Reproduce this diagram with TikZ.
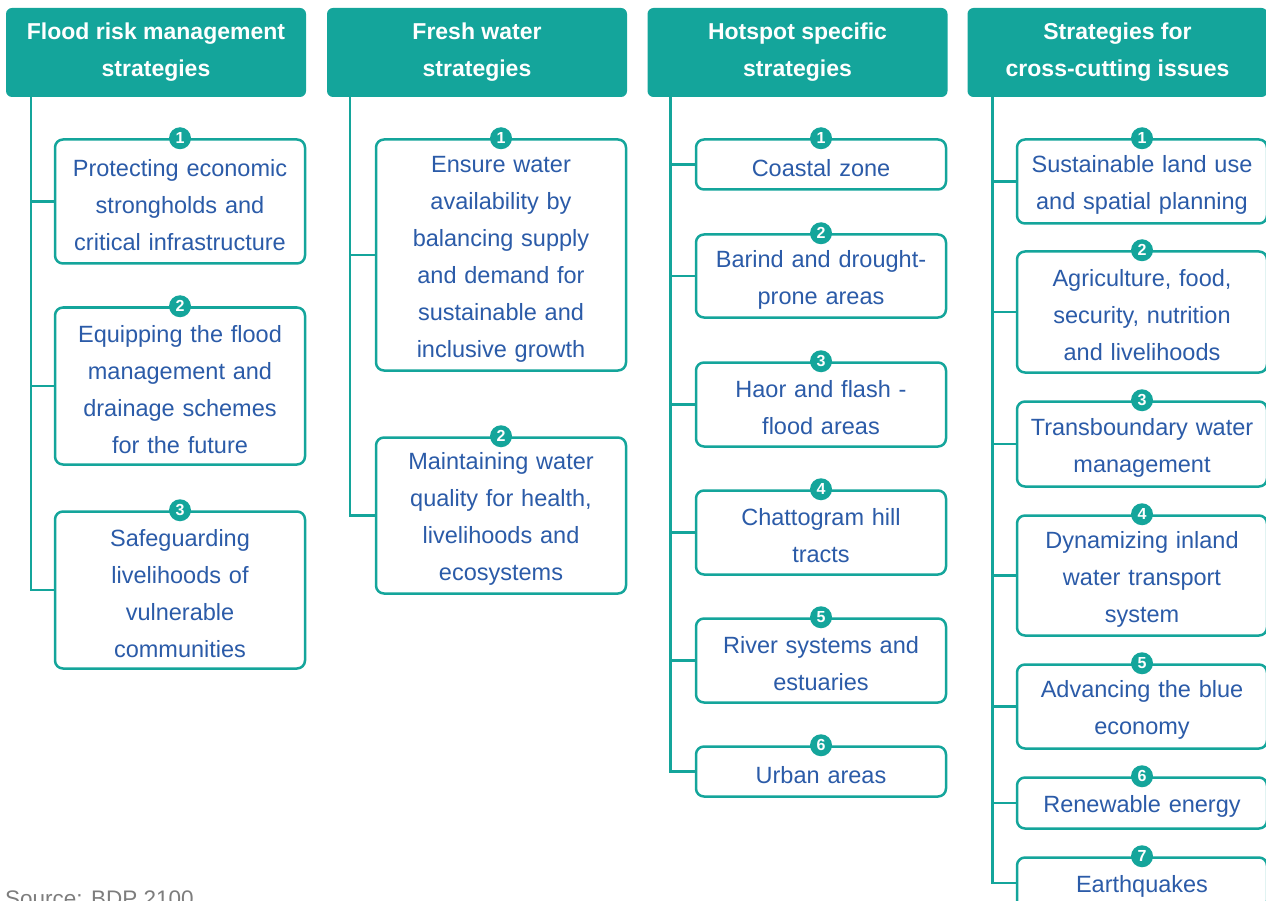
\documentclass[tikz,border=0pt]{standalone}
\usepackage{fontspec}
\setmainfont{Liberation Sans}
\usepackage{tikz}
\usetikzlibrary{positioning}

\definecolor{bdpteal}{RGB}{20,165,155}
\definecolor{bdpblue}{RGB}{43,91,168}
\definecolor{srcgray}{RGB}{125,125,125}

\begin{document}
\begin{tikzpicture}[x=1pt,y=-1pt,
    header/.style={fill=bdpteal,text=white,rounded corners=6pt,
      minimum width=300pt,minimum height=89pt,align=center,
      font=\bfseries\fontsize{23}{37}\selectfont},
    item/.style={draw=bdpteal,line width=2.5pt,fill=white,rounded corners=8pt,
      minimum width=250pt,text width=240pt,align=center,text=bdpblue,
      font=\fontsize{23.5}{37}\selectfont,
      execute at begin node={\rule{0pt}{24pt}}},
    badge/.style={circle,fill=bdpteal,text=white,inner sep=0pt,minimum size=22pt,
      font=\bfseries\fontsize{16}{16}\selectfont},
    link/.style={draw=bdpteal,line width=2.5pt}]
  \useasboundingbox (0,0) rectangle (1266,901);

  % ---- column 1: flood risk ----
  \node[header] (h1) at (156,52.5) {Flood risk management\\strategies};
  \coordinate (s1) at ([xshift=25pt]h1.south west);
  \foreach \n/\y/\h/\txt in {
      1/201.5/124/{Protecting economic\\strongholds and\\critical infrastructure},
      2/386/157/{Equipping the flood\\management and\\drainage schemes\\for the future},
      3/590/157/{Safeguarding\\livelihoods of\\vulnerable\\communities}} {
    \node[item,minimum height=\h pt] (a\n) at (180,\y) {\txt};
    \node[badge] (a\n-num) at (a\n.north) {\n};
    \draw[link] (a\n.west -| s1) -- (a\n.west);
  }
  \draw[link] (s1) |- (a3.west);

  % ---- column 2: fresh water ----
  \node[header] (h2) at (477,52.5) {Fresh water\\strategies};
  \coordinate (s2) at ([xshift=23pt]h2.south west);
  \foreach \n/\y/\h/\txt in {
      1/255/231/{Ensure water\\availability by\\balancing supply\\and demand for\\sustainable and\\inclusive growth},
      2/515.5/156/{Maintaining water\\quality for health,\\livelihoods and\\ecosystems}} {
    \node[item,minimum height=\h pt] (b\n) at (501,\y) {\txt};
    \node[badge] (b\n-num) at (b\n.north) {\n};
    \draw[link] (b\n.west -| s2) -- (b\n.west);
  }
  \draw[link] (s2) |- (b2.west);

  % ---- column 3: hotspots ----
  \node[header] (h3) at (797.5,52.5) {Hotspot specific\\strategies};
  \coordinate (s3) at ([xshift=23pt]h3.south west);
  \foreach \n/\y/\h/\txt in {
      1/164.5/50/{Coastal zone},
      2/276/83/{Barind and drought-\\prone areas},
      3/404.5/84/{Haor and flash -\\flood areas},
      4/532.5/84/{Chattogram hill\\tracts},
      5/660.5/84/{River systems and\\estuaries},
      6/771.5/50/{Urban areas}} {
    \node[item,minimum height=\h pt] (c\n) at (821,\y) {\txt};
    \node[badge] (c\n-num) at (c\n.north) {\n};
    \draw[link] (c\n.west -| s3) -- (c\n.west);
  }
  \draw[link] (s3) |- (c6.west);

  % ---- column 4: cross-cutting ----
  \node[header] (h4) at (1117.5,52.5) {Strategies for\\cross-cutting issues};
  \coordinate (s4) at ([xshift=25pt]h4.south west);
  \foreach \n/\y/\h/\txt in {
      1/181.5/84/{Sustainable land use\\and spatial planning},
      2/312/121/{Agriculture, food,\\security, nutrition\\and livelihoods},
      3/444/85/{Transboundary water\\management},
      4/575.5/120/{Dynamizing inland\\water transport\\system},
      5/706.5/84/{Advancing the blue\\economy},
      6/803/51/{Renewable energy},
      7/883/51/{Earthquakes}} {
    \node[item,minimum height=\h pt] (d\n) at (1142,\y) {\txt};
    \node[badge] (d\n-num) at (d\n.north) {\n};
    \draw[link] (d\n.west -| s4) -- (d\n.west);
  }
  \draw[link] (s4) |- (d7.west);

  \node[anchor=base west,inner sep=0pt,text=srcgray,font=\fontsize{22.5}{26}\selectfont] (src)
    at (5,906) {Source: BDP 2100};
\end{tikzpicture}
\end{document}
